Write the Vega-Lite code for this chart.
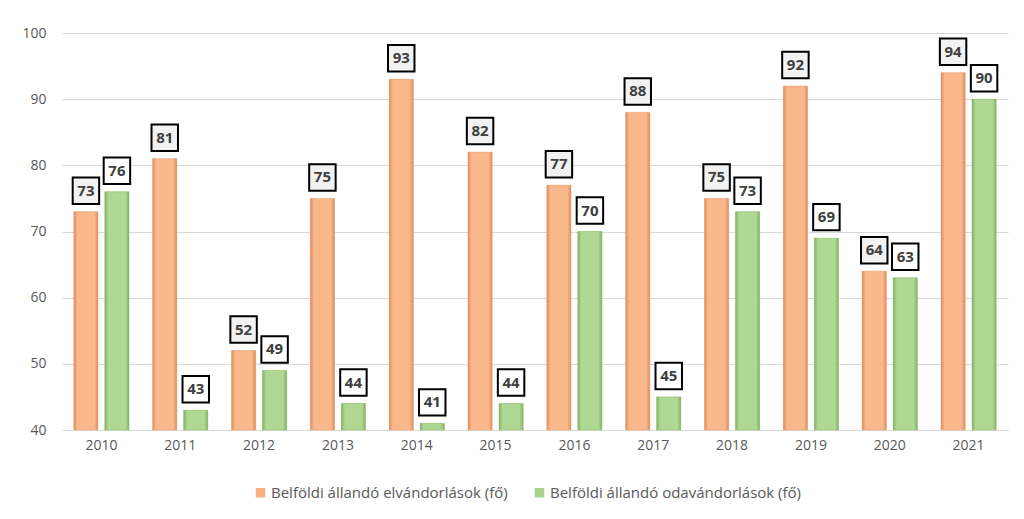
{
  "$schema": "https://vega.github.io/schema/vega-lite/v6.json",
  "width": 946,
  "height": 397,
  "autosize": {"type": "none"},
  "padding": {"left": 62, "top": 33, "right": 16, "bottom": 89},
  "background": "#ffffff",
  "config": {
    "view": {"stroke": null},
    "font": "Open Sans",
    "axis": {"labelFont": "Open Sans", "labelColor": "#595959", "labelFontSize": 14}
  },
  "data": {
    "values": [
      {"year": "2010", "series": "Belföldi állandó elvándorlások (fő)", "value": 73},
      {"year": "2010", "series": "Belföldi állandó odavándorlások (fő)", "value": 76},
      {"year": "2011", "series": "Belföldi állandó elvándorlások (fő)", "value": 81},
      {"year": "2011", "series": "Belföldi állandó odavándorlások (fő)", "value": 43},
      {"year": "2012", "series": "Belföldi állandó elvándorlások (fő)", "value": 52},
      {"year": "2012", "series": "Belföldi állandó odavándorlások (fő)", "value": 49},
      {"year": "2013", "series": "Belföldi állandó elvándorlások (fő)", "value": 75},
      {"year": "2013", "series": "Belföldi állandó odavándorlások (fő)", "value": 44},
      {"year": "2014", "series": "Belföldi állandó elvándorlások (fő)", "value": 93},
      {"year": "2014", "series": "Belföldi állandó odavándorlások (fő)", "value": 41},
      {"year": "2015", "series": "Belföldi állandó elvándorlások (fő)", "value": 82},
      {"year": "2015", "series": "Belföldi állandó odavándorlások (fő)", "value": 44},
      {"year": "2016", "series": "Belföldi állandó elvándorlások (fő)", "value": 77},
      {"year": "2016", "series": "Belföldi állandó odavándorlások (fő)", "value": 70},
      {"year": "2017", "series": "Belföldi állandó elvándorlások (fő)", "value": 88},
      {"year": "2017", "series": "Belföldi állandó odavándorlások (fő)", "value": 45},
      {"year": "2018", "series": "Belföldi állandó elvándorlások (fő)", "value": 75},
      {"year": "2018", "series": "Belföldi állandó odavándorlások (fő)", "value": 73},
      {"year": "2019", "series": "Belföldi állandó elvándorlások (fő)", "value": 92},
      {"year": "2019", "series": "Belföldi állandó odavándorlások (fő)", "value": 69},
      {"year": "2020", "series": "Belföldi állandó elvándorlások (fő)", "value": 64},
      {"year": "2020", "series": "Belföldi állandó odavándorlások (fő)", "value": 63},
      {"year": "2021", "series": "Belföldi állandó elvándorlások (fő)", "value": 94},
      {"year": "2021", "series": "Belföldi állandó odavándorlások (fő)", "value": 90}
    ]
  },
  "encoding": {
    "x": {
      "field": "year", "type": "nominal", "title": null,
      "scale": {"paddingInner": 0.3, "paddingOuter": 0.15},
      "axis": {"labelAngle": 0, "ticks": false, "domainColor": "#d9d9d9", "domainWidth": 1, "labelPadding": 8, "grid": false}
    },
    "xOffset": {"field": "series", "type": "nominal", "scale": {"paddingInner": 0.22, "paddingOuter": 0}},
    "y": {
      "field": "value", "type": "quantitative", "title": null,
      "scale": {"domain": [40, 100], "zero": false, "nice": false},
      "axis": {"values": [40, 50, 60, 70, 80, 90, 100], "domain": false, "ticks": false, "gridColor": "#d9d9d9", "gridWidth": 1, "labelPadding": 16}
    }
  },
  "layer": [
    {
      "mark": {"type": "bar"},
      "encoding": {
        "y2": {"datum": 40},
        "color": {
          "field": "series", "type": "nominal",
          "scale": {"range": ["#f6b07f", "#a8d18b"]},
          "legend": {
            "title": null, "orient": "none", "direction": "horizontal",
            "legendX": 191, "legendY": 452,
            "symbolType": "square", "symbolSize": 90, "symbolStrokeWidth": 0,
            "labelFont": "Open Sans", "labelFontSize": 15, "labelColor": "#595959",
            "labelLimit": 400, "columnPadding": 24, "labelOffset": 3
          }
        }
      }
    },
    {
      "transform": [{"filter": "datum.series == 'Belföldi állandó elvándorlások (fő)'"}],
      "mark": {
        "type": "bar",
        "fill": {"gradient": "linear", "x1": 0, "x2": 1, "y1": 0, "y2": 0,
          "stops": [{"offset": 0, "color": "#d98c60"}, {"offset": 0.15, "color": "#fbb88a"}, {"offset": 0.85, "color": "#fbb88a"}, {"offset": 1, "color": "#d98c60"}]},
        "stroke": "#e9a477", "strokeWidth": 0.5
      },
      "encoding": {"y2": {"datum": 40}}
    },
    {
      "transform": [{"filter": "datum.series == 'Belföldi állandó odavándorlások (fő)'"}],
      "mark": {
        "type": "bar",
        "fill": {"gradient": "linear", "x1": 0, "x2": 1, "y1": 0, "y2": 0,
          "stops": [{"offset": 0, "color": "#83b064"}, {"offset": 0.15, "color": "#afd892"}, {"offset": 0.85, "color": "#afd892"}, {"offset": 1, "color": "#83b064"}]},
        "stroke": "#92bf74", "strokeWidth": 0.5
      },
      "encoding": {"y2": {"datum": 40}}
    },
    {
      "mark": {"type": "point", "shape": "square", "size": 700, "filled": true, "stroke": "#000000", "strokeWidth": 2, "opacity": 1, "yOffset": -21},
      "encoding": {
        "fill": {
          "condition": {"test": "datum.series == 'Belföldi állandó elvándorlások (fő)'", "value": "#f2f2f2"},
          "value": "#ffffff"
        }
      }
    },
    {
      "mark": {"type": "text", "dy": -21, "baseline": "middle", "align": "center", "font": "Open Sans", "fontWeight": "bold", "fontSize": 15, "color": "#404040"},
      "encoding": {"text": {"field": "value", "type": "quantitative"}}
    }
  ]
}
